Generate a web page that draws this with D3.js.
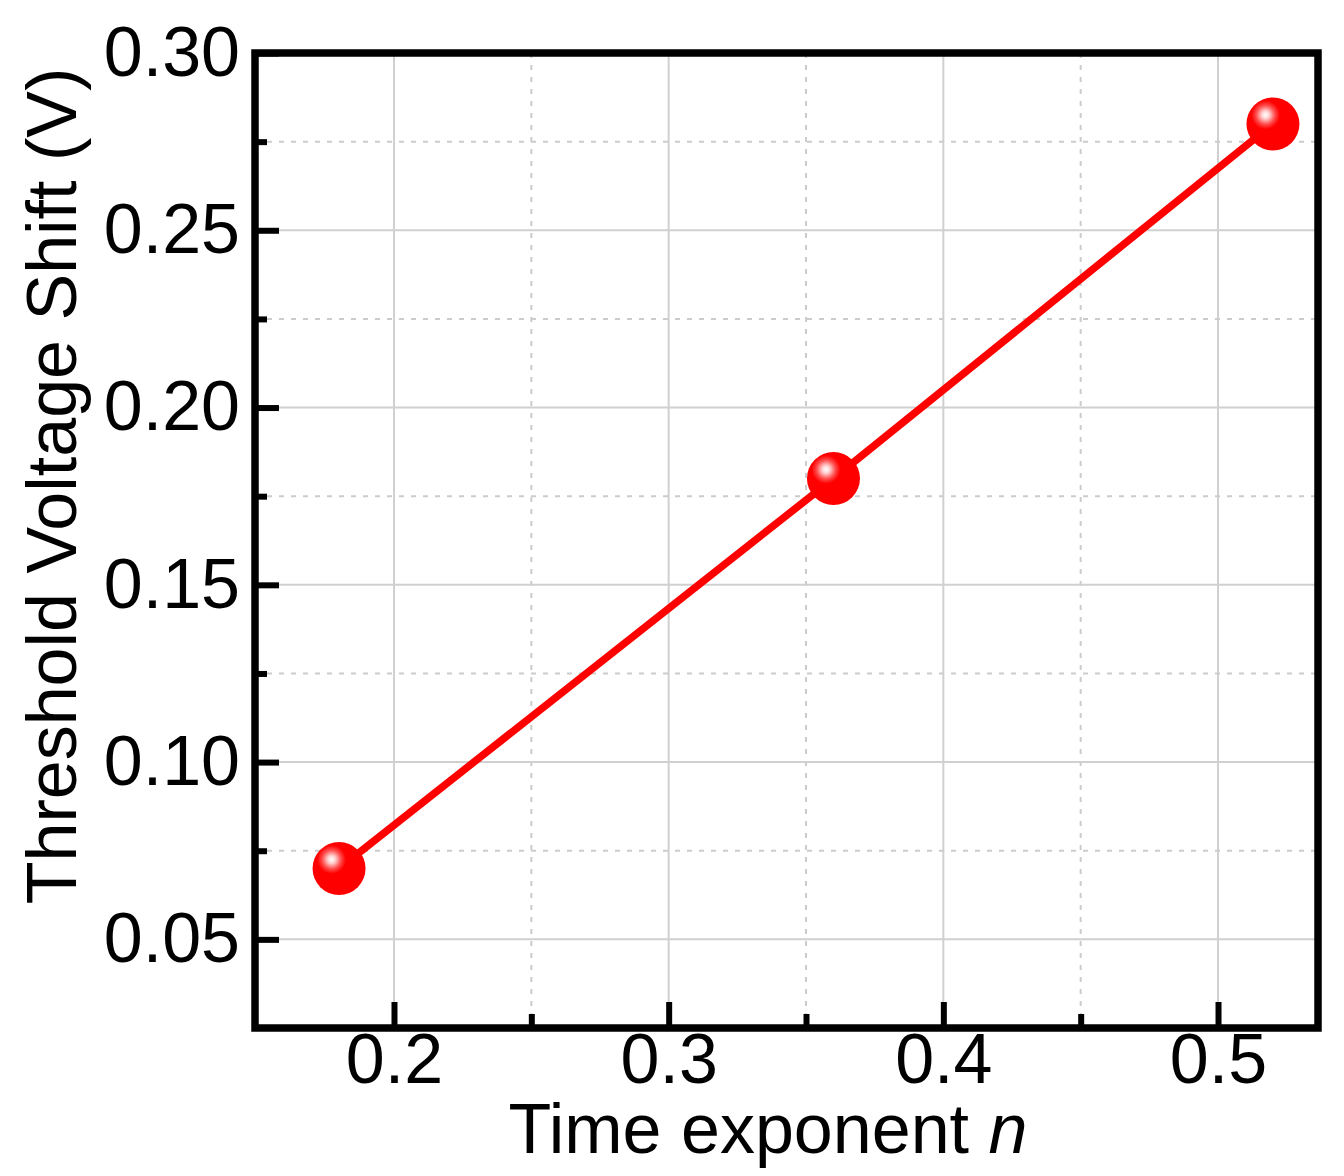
<!DOCTYPE html>
<html>
<head>
<meta charset="utf-8">
<script src="https://cdn.jsdelivr.net/npm/d3@7"></script>
<style>
  html, body { margin: 0; padding: 0; background: #fff; }
  svg { display: block; }
</style>
</head>
<body>
<div id="chart"></div>
<script>
// --- data ---
const exponentN = [0.18, 0.36, 0.52];
const vthShift = [0.07, 0.18, 0.28];
const xMajorTicks = [0.2, 0.3, 0.4, 0.5];
const xMinorTicks = [0.25, 0.35, 0.45];
const yMajorTicks = [0.05, 0.10, 0.15, 0.20, 0.25, 0.30];
const yMinorTicks = [0.075, 0.125, 0.175, 0.225, 0.275];

const W = 1344, H = 1176;
const plot = { left: 255, right: 1318, top: 53, bottom: 1028 };
const font = "'Liberation Sans', Arial, sans-serif";

const svg = d3.select("#chart").append("svg")
  .attr("width", W).attr("height", H);

// sphere look for the markers
const grad = svg.append("defs").append("radialGradient")
  .attr("id", "ball")
  .attr("cx", 0.36).attr("cy", 0.33).attr("r", 0.6)
  .attr("fx", 0.36).attr("fy", 0.33);
grad.append("stop").attr("offset", "0%").attr("stop-color", "#ffffff");
grad.append("stop").attr("offset", "12%").attr("stop-color", "#ffd0d0");
grad.append("stop").attr("offset", "30%").attr("stop-color", "#ff4a4a");
grad.append("stop").attr("offset", "45%").attr("stop-color", "#ff0000");
grad.append("stop").attr("offset", "100%").attr("stop-color", "#ff0000");

// --- scales ---
const x = d3.scaleLinear().domain([0.1494, 0.5364]).range([plot.left, plot.right]);
const y = d3.scaleLinear().domain([0.025, 0.30]).range([plot.bottom, plot.top]);

// --- grid ---
const grid = svg.append("g");
grid.selectAll("line.xg").data(xMajorTicks).enter().append("line")
  .attr("x1", d => x(d)).attr("x2", d => x(d))
  .attr("y1", plot.top).attr("y2", plot.bottom)
  .attr("stroke", "#d0d0d0").attr("stroke-width", 2);
grid.selectAll("line.xm").data(xMinorTicks).enter().append("line")
  .attr("x1", d => x(d)).attr("x2", d => x(d))
  .attr("y1", plot.top).attr("y2", plot.bottom)
  .attr("stroke", "#cccccc").attr("stroke-width", 2)
  .attr("stroke-dasharray", "5,7");
grid.selectAll("line.yg").data(yMajorTicks).enter().append("line")
  .attr("y1", d => y(d)).attr("y2", d => y(d))
  .attr("x1", plot.left).attr("x2", plot.right)
  .attr("stroke", "#d0d0d0").attr("stroke-width", 2);
grid.selectAll("line.ym").data(yMinorTicks).enter().append("line")
  .attr("y1", d => y(d)).attr("y2", d => y(d))
  .attr("x1", plot.left).attr("x2", plot.right)
  .attr("stroke", "#cccccc").attr("stroke-width", 2)
  .attr("stroke-dasharray", "5,7");

// --- axes (ticks pointing inward) ---
const xAxis = svg.append("g")
  .attr("transform", `translate(0,${plot.bottom})`)
  .call(d3.axisBottom(x).tickValues(xMajorTicks).tickSize(-26).tickPadding(5)
    .tickFormat(d3.format(".1f")));
const xMinor = svg.append("g")
  .attr("transform", `translate(0,${plot.bottom})`)
  .call(d3.axisBottom(x).tickValues(xMinorTicks).tickSize(-14).tickFormat(""));

const yAxis = svg.append("g")
  .attr("transform", `translate(${plot.left},0)`)
  .call(d3.axisLeft(y).tickValues(yMajorTicks).tickSize(-24).tickPadding(15)
    .tickFormat(d3.format(".2f")));
const yMinor = svg.append("g")
  .attr("transform", `translate(${plot.left},0)`)
  .call(d3.axisLeft(y).tickValues(yMinorTicks).tickSize(-12).tickFormat(""));

[xAxis, xMinor, yAxis, yMinor].forEach(g => {
  g.select(".domain").remove();
  g.selectAll(".tick line").attr("stroke", "#000").attr("stroke-width", 6);
  g.selectAll(".tick text")
    .attr("fill", "#000")
    .style("font-family", font)
    .style("font-size", "70px");
});

// --- frame ---
svg.append("rect")
  .attr("x", plot.left).attr("y", plot.top)
  .attr("width", plot.right - plot.left)
  .attr("height", plot.bottom - plot.top)
  .attr("fill", "none")
  .attr("stroke", "#000")
  .attr("stroke-width", 7.5);

// --- series ---
const pts = exponentN.map((n, i) => ({ n: n, v: vthShift[i] }));

svg.append("path")
  .datum(pts)
  .attr("fill", "none")
  .attr("stroke", "#ff0000")
  .attr("stroke-width", 7.5)
  .attr("d", d3.line().x(d => x(d.n)).y(d => y(d.v)));

svg.selectAll("circle.pt").data(pts).enter().append("circle")
  .attr("class", "pt")
  .attr("cx", d => x(d.n))
  .attr("cy", d => y(d.v))
  .attr("r", 26.5)
  .attr("fill", "url(#ball)");

// --- axis titles ---
const xTitle = svg.append("text")
  .attr("x", 768).attr("y", 1153)
  .attr("text-anchor", "middle")
  .style("font-family", font)
  .style("font-size", "70px")
  .attr("fill", "#000");
xTitle.append("tspan").text("Time exponent ");
xTitle.append("tspan").style("font-style", "italic").text("n");

svg.append("text")
  .attr("transform", "translate(76,486) rotate(-90)")
  .attr("text-anchor", "middle")
  .style("font-family", font)
  .style("font-size", "70px")
  .attr("fill", "#000")
  .text("Threshold Voltage Shift (V)");
</script>
</body>
</html>
